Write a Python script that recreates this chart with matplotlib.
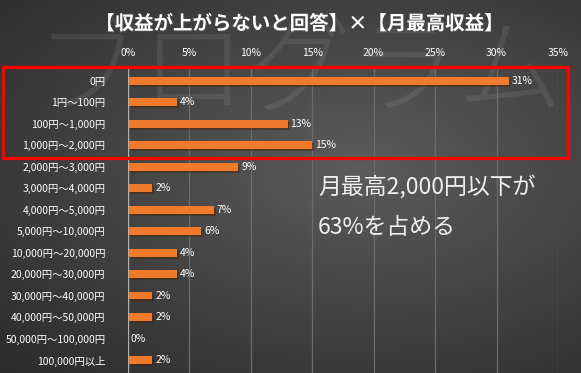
import numpy as np
import matplotlib
matplotlib.use("Agg")
import matplotlib.pyplot as plt
from matplotlib.patches import Rectangle
import matplotlib.patheffects as pe

plt.rcParams['font.family'] = ['Noto Sans CJK JP', 'DejaVu Sans']

title = "【収益が上がらないと回答】×【月最高収益】"
categories = ["0円", "1円～100円", "100円～1,000円", "1,000円～2,000円",
              "2,000円～3,000円", "3,000円～4,000円", "4,000円～5,000円",
              "5,000円～10,000円", "10,000円～20,000円", "20,000円～30,000円",
              "30,000円～40,000円", "40,000円～50,000円", "50,000円～100,000円",
              "100,000円以上"]
values = [31, 4, 13, 15, 9, 2, 7, 6, 4, 4, 2, 2, 0, 2]
xticks = [0, 5, 10, 15, 20, 25, 30, 35]
note_lines = ["月最高2,000円以下が", "63%を占める"]
watermark = "ブログラム"

W, H = 581, 373
fig = plt.figure(figsize=(W/100, H/100), dpi=100)

# background gradient
bg = fig.add_axes([0, 0, 1, 1])
yy, xx = np.mgrid[0:1:200j, 0:1:300j]
d = np.sqrt(((xx - 0.62) / 1.0) ** 2 + ((yy - 0.45) / 0.9) ** 2)
v = 0.36 - 0.22 * d
v = np.clip(v, 0.17, 0.36)
bg.imshow(np.dstack([v, v, v]), extent=[0, 1, 0, 1], aspect='auto', origin='upper')
bg.set_xlim(0, 1); bg.set_ylim(0, 1)
bg.axis('off')

# watermark
bg.text(0.515, 0.80, watermark, fontsize=76, color='white', alpha=0.08,
        ha='center', va='center', fontweight='light')

ax = fig.add_axes([127.7/W, 0, 430.3/W, 305/H])
ax.set_facecolor('none')
y = np.arange(len(categories))
bars = ax.barh(y, values, height=0.36, color='#F07A2C', zorder=3)
for b in bars:
    b.set_path_effects([pe.SimplePatchShadow(offset=(1.5, -1.5), alpha=0.5), pe.Normal()])
ax.set_xlim(0, 35)
ax.set_ylim(13.6, -0.59)
ax.set_xticks(xticks)
ax.set_xticklabels([f"{t}%" for t in xticks])
ax.xaxis.tick_top()
ax.tick_params(axis='x', length=0, pad=7, labelsize=7.5, colors='white')
ax.set_yticks(y)
ax.set_yticklabels(categories)
ax.tick_params(axis='y', length=0, pad=16, labelsize=7.5, colors='white')
ax.grid(axis='x', color='#6c6c6c', linewidth=0.9, zorder=0)
for s in ax.spines.values():
    s.set_visible(False)
ax.axvline(0, color='#b0b0b0', linewidth=0.9, zorder=4)

for yi, val in zip(y, values):
    ax.annotate(f"{val}%", (val, yi), xytext=(2, 0), textcoords='offset points',
                va='center', ha='left', fontsize=7.5, color='white', zorder=5)

fig.text(300/W, 1 - 24/H, title, ha='center', va='center', fontsize=14,
         fontweight='bold', color='white',
         path_effects=[pe.withSimplePatchShadow(offset=(1, -1), alpha=0.6)])

fig.text(318/W, 1 - 188/H, note_lines[0], ha='left', va='center', fontsize=16.5, color='#f0f0f0')
fig.text(318/W, 1 - 228/H, note_lines[1], ha='left', va='center', fontsize=16.5, color='#f0f0f0')

fig.patches.append(Rectangle((3/W, 1 - 158/H), 565/W, 91/H, transform=fig.transFigure,
                             fill=False, edgecolor='#ff0000', linewidth=2.3, zorder=10))

fig.savefig('out.png', dpi=100)
